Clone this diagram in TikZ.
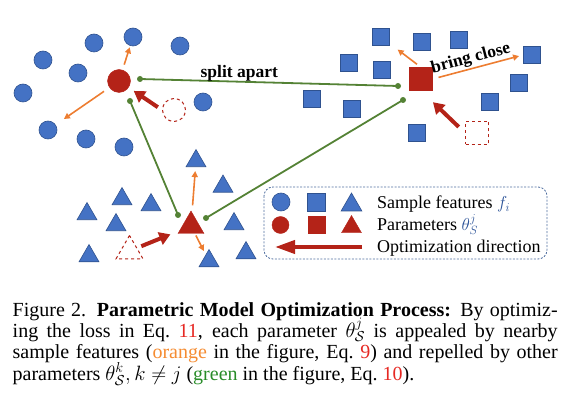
\documentclass[tikz,border=0pt]{standalone}
\usepackage{fontspec}
\setmainfont{Liberation Serif}
\usetikzlibrary{shapes.geometric,arrows.meta}

\definecolor{featblue}{RGB}{68,114,196}
\definecolor{featedge}{RGB}{47,82,143}
\definecolor{parred}{RGB}{180,35,24}
\definecolor{pullorange}{RGB}{237,125,49}
\definecolor{pushgreen}{RGB}{84,130,53}
\definecolor{legblue}{RGB}{40,80,150}
\definecolor{boxedge}{RGB}{80,110,160}
\definecolor{capred}{RGB}{230,40,35}
\definecolor{caporange}{RGB}{245,140,50}
\definecolor{capgreen}{RGB}{40,140,40}

% one justified caption line
\newcommand{\capline}[1]{\spaceskip=0.25em plus 0.25em minus 0.1em\makebox[545pt][s]{#1}}

\begin{document}
\begin{tikzpicture}[x=1pt, y=-1pt,
  feat/.style={fill=featblue, draw=featedge, line width=0.6pt, inner sep=0pt},
  fcirc/.style={feat, circle, minimum size=18pt},
  fsq/.style={feat, rectangle, minimum size=17.5pt},
  ftri/.style={feat, regular polygon, regular polygon sides=3, minimum size=23pt},
  param/.style={fill=parred, draw=parred, inner sep=0pt},
  pcirc/.style={param, circle, minimum size=23pt},
  psq/.style={param, rectangle, minimum size=23pt},
  ptri/.style={param, regular polygon, regular polygon sides=3, minimum size=30pt},
  ghost/.style={draw=parred, dashed, line width=1pt, inner sep=0pt, fill=white},
  pull/.style={draw=pullorange, line width=1.6pt, -{Triangle[length=6pt,width=6pt]}},
  push/.style={draw=pushgreen, line width=1.8pt},
  move/.style={draw=parred, line width=4pt, -{Triangle[length=11pt,width=13pt]}},
  lbl/.style={font=\fontsize{17.5}{20}\selectfont\bfseries},
  legtxt/.style={font=\fontsize{18}{20}\selectfont, anchor=base west, inner sep=0pt},
  legbox/.style={draw=boxedge, line width=0.8pt, dash pattern=on 2pt off 1.5pt, rounded corners=9pt},
  captxt/.style={font=\fontsize{20}{21.4}\selectfont, anchor=base west, inner sep=0pt},
]
\useasboundingbox (0,0) rectangle (567,403);

% === SAMPLE FEATURES ===
\foreach \x/\y [count=\i] in {94/43, 133/37, 180/46, 43/60, 78/73, 23/93,
    203/102, 48/130, 86/139, 124/147}
  \node[fcirc] (fc\i) at (\x,\y) {};
\foreach \x/\y [count=\i] in {381/37, 422/42, 459/40, 349/63, 382/70, 532/55,
    312/99, 352/109, 519/83, 490/102, 417/133}
  \node[fsq] (fs\i) at (\x,\y) {};
\foreach \x/\y [count=\i] in {196/161, 223/186.5, 122/199, 151/205, 87/214,
    116/225, 234/224, 89/256, 209/261, 246/253}
  \node[ftri] (ft\i) at (\x,\y) {};

% === PARAMETERS ===
\node[pcirc] (pc) at (119,81) {};
\node[psq] (ps) at (421,79) {};
\node[ptri] (pt) at (191,226) {};

% previous positions
\node[ghost, circle, minimum size=23pt] (gc) at (174,110) {};
\node[ghost, minimum size=23pt] (gs) at (477,133) {};
\node[ghost, regular polygon, regular polygon sides=3, minimum size=31pt] (gt) at (129.5,251) {};

% === REPULSION (green) ===
\coordinate (pc-a) at ([shift={(21,-2)}]pc.center);
\coordinate (pc-b) at ([shift={(11,20)}]pc.center);
\coordinate (ps-a) at ([shift={(-23,7)}]ps.center);
\coordinate (ps-b) at ([shift={(-18,21)}]ps.center);
\coordinate (pt-a) at ([shift={(-13,-11)}]pt.center);
\coordinate (pt-b) at ([shift={(15,-8)}]pt.center);

\draw[push] (pc-a) -- (ps-a)
  node[lbl, pos=0.385, anchor=base, yshift=4pt] (split) {split apart};
\draw[push] (pc-b) -- (pt-a);
\draw[push] (pt-b) -- (ps-b);
\foreach \c in {pc-a, pc-b, ps-a, ps-b, pt-a, pt-b}
  \fill[pushgreen] (\c) circle (3pt);

% === ATTRACTION (orange) ===
\draw[pull, shorten <=5.5pt, shorten >=1.5pt] (pc) -- (fc2);
\draw[pull, shorten <=6.5pt, shorten >=10pt] (pc) -- (fc8);
\draw[pull, shorten <=5pt, shorten >=9.5pt] (ps.north) -- (fs1);
\draw[pull, shorten <=6pt, shorten >=4pt] (ps.east) -- (fs6.west)
  node[lbl, pos=0.45, above, sloped, inner sep=1pt] (close) {bring close};
\draw[pull, shorten <=7pt, shorten >=4pt] (pt) -- (ft1);
\draw[pull, shorten <=2pt, shorten >=4pt] (pt) -- (ft9);

% === OPTIMIZATION STEPS ===
\draw[move, shorten <=5pt, shorten >=6pt] (gc.west) -- (pc);
\draw[move, shorten <=8.8pt, shorten >=16.6pt] (gs.west) -- (ps.south);
\draw[move, shorten <=4.4pt, shorten >=9.7pt] (gt) -- (pt);

% === LEGEND ===
\draw[legbox] (264,187) rectangle (547,259);
\node[fcirc] (lc1) at (281,202) {};
\node[fsq, minimum size=18pt] (ls1) at (316.5,202) {};
\node[ftri, minimum size=24pt] (lt1) at (351.5,205) {};
\node[pcirc, minimum size=17pt] (lc2) at (280.5,225) {};
\node[psq, minimum size=17pt] (ls2) at (316.5,224.5) {};
\node[ptri, minimum size=23pt] (lt2) at (351.5,227) {};
\coordinate (la-s) at (362,247);
\coordinate (la-e) at (275,247);
\draw[move, line width=4pt, -{Triangle[length=20pt,width=13pt]}] (la-s) -- (la-e);

\node[legtxt] (t-feat) at (377,209) {Sample features \textcolor{legblue}{$f_i$}};
\node[legtxt] (t-par) at (377,231) {Parameters \textcolor{legblue}{$\theta_S^j$}};
\node[legtxt] (t-dir) at (377,252) {Optimization direction};

% === CAPTION ===
\node[captxt] (cap1) at (12.5,316) {\capline{Figure 2. \textbf{Parametric Model
  Optimization Process:} By optimiz-}};
\node[captxt] (cap2) at (12.5,337.4) {\capline{ing the loss in Eq.~\textcolor{capred}{11},
  each parameter $\theta^{j}_{\mathcal{S}}$ is appealed by nearby}};
\node[captxt] (cap3) at (12.5,358.8) {\capline{sample features (\textcolor{caporange}{orange}
  in the figure, Eq.~\textcolor{capred}{9}) and repelled by other}};
\node[captxt] (cap4) at (12.5,380.2) {parameters $\theta^{k}_{\mathcal{S}}, k \neq j$
  (\textcolor{capgreen}{green} in the figure, Eq.~\textcolor{capred}{10}).};

\end{tikzpicture}
\end{document}
